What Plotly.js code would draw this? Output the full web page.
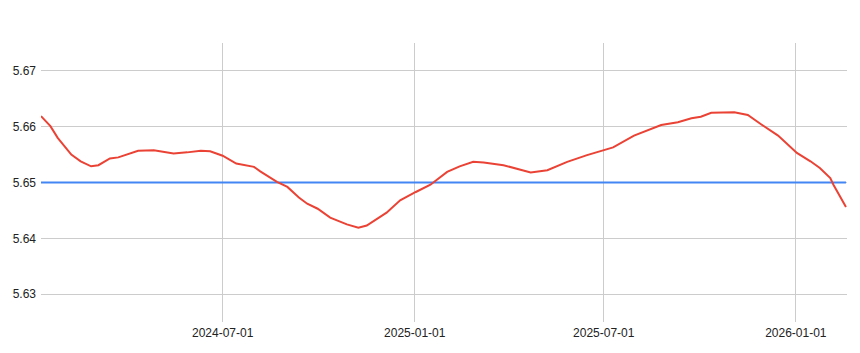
<!DOCTYPE html>
<html>
<head>
<meta charset="utf-8">
<script src="https://cdn.plot.ly/plotly-3.0.1.min.js"></script>
<style>html,body{margin:0;padding:0;background:#fff;}#chart{width:860px;height:353px;}</style>
</head>
<body>
<div id="chart"></div>
<script>
const dates = [
 '2024-01-09','2024-01-18','2024-01-25','2024-02-07','2024-02-16','2024-02-26','2024-03-04','2024-03-15',
 '2024-03-23','2024-04-02','2024-04-11','2024-04-26','2024-05-04','2024-05-15','2024-05-28','2024-06-10',
 '2024-06-19','2024-07-01','2024-07-14','2024-07-31','2024-08-06','2024-08-22','2024-09-01','2024-09-12',
 '2024-09-20','2024-09-30','2024-10-12','2024-10-28','2024-11-08','2024-11-16','2024-12-05','2024-12-18',
 '2025-01-02','2025-01-16','2025-02-01','2025-02-13','2025-02-26','2025-03-08','2025-03-27','2025-04-09',
 '2025-04-22','2025-05-08','2025-05-27','2025-06-15','2025-06-28','2025-07-10','2025-07-30','2025-08-12',
 '2025-08-25','2025-09-10','2025-09-23','2025-10-02','2025-10-12','2025-11-03','2025-11-16','2025-11-29',
 '2025-12-15','2026-01-02','2026-01-15','2026-01-24','2026-02-03','2026-02-06','2026-02-18'
];
const values = [
 5.6619,5.6601,5.6580,5.6550,5.6538,5.6529,5.6531,5.6543,
 5.6545,5.6552,5.6557,5.6558,5.6555,5.6552,5.6554,5.6557,
 5.6556,5.6548,5.6534,5.6528,5.6520,5.6501,5.6492,5.6473,
 5.6462,5.6453,5.6437,5.6425,5.6419,5.6423,5.6446,5.6468,
 5.6483,5.6496,5.6519,5.6529,5.6537,5.6536,5.6531,5.6525,
 5.6518,5.6522,5.6537,5.6549,5.6556,5.6563,5.6584,5.6593,
 5.6603,5.6608,5.6615,5.6618,5.6625,5.6626,5.6621,5.6604,
 5.6584,5.6553,5.6538,5.6526,5.6508,5.6496,5.6456
];
const refDates = ['2024-01-09','2026-02-18'];
const refValues = [5.65, 5.65];
const yTicks = [5.63, 5.64, 5.65, 5.66, 5.67];
const yTickText = ['5.63','5.64','5.65','5.66','5.67'];
const xTicks = ['2024-07-01','2025-01-01','2025-07-01','2026-01-01'];
const xTickText = ['2024-07-01','2025-01-01','2025-07-01','2026-01-01'];

const traces = [
 {x: refDates, y: refValues, type:'scatter', mode:'lines', line:{color:'#4285f4', width:2}, hoverinfo:'skip'},
 {x: dates, y: values, type:'scatter', mode:'lines', line:{color:'#ea4335', width:2}}
];
const layout = {
 width:860, height:353,
 margin:{l:41, r:13, t:43, b:31},
 showlegend:false,
 paper_bgcolor:'#fff', plot_bgcolor:'#fff',
 font:{family:'Liberation Sans, Arial, sans-serif', size:12, color:'#222'},
 xaxis:{type:'date', range:['2024-01-09','2026-02-19'], tickmode:'array', tickvals:xTicks, ticktext:xTickText,
   showgrid:true, gridcolor:'#cccccc', gridwidth:1, zeroline:false, showline:false, ticks:'', ticklabelstandoff:2},
 yaxis:{range:[5.625,5.675], tickmode:'array', tickvals:yTicks, ticktext:yTickText,
   showgrid:true, gridcolor:'#cccccc', gridwidth:1, zeroline:false, showline:false, ticks:'', ticklabelstandoff:4}
};
Plotly.newPlot('chart', traces, layout, {displayModeBar:false, staticPlot:true});
</script>
</body>
</html>
